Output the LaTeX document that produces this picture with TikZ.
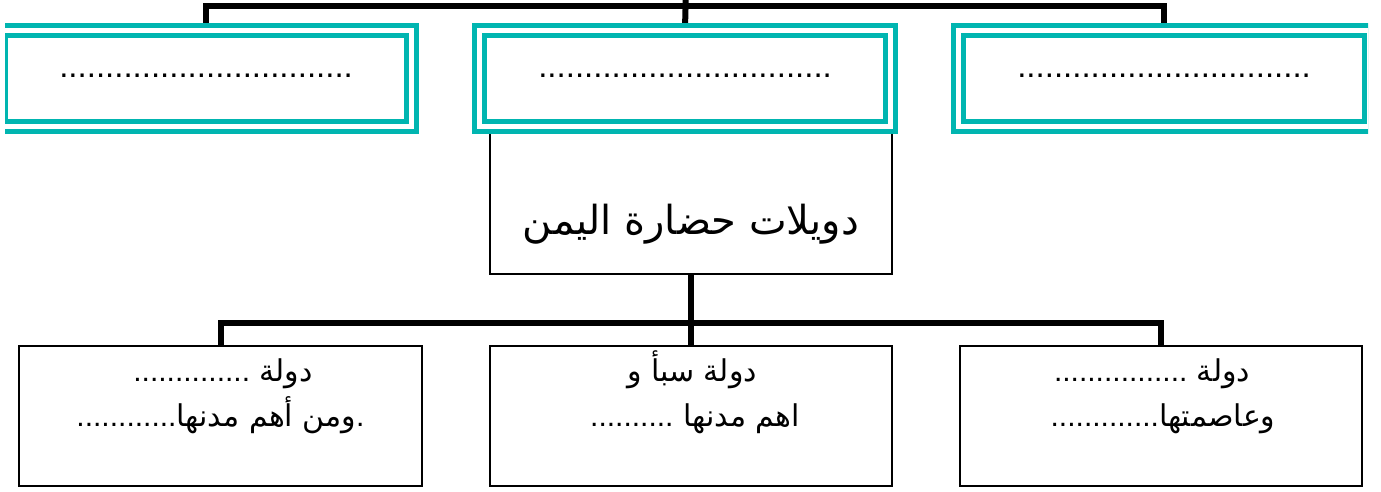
\documentclass[tikz,border=0pt]{standalone}
\usepackage{fontspec}
\setmainfont{Liberation Sans}
\newfontfamily\arabicfont[Script=Arabic]{DejaVu Sans}
\newfontfamily\latinfont{Liberation Sans}
\TeXXeTstate=1
\usetikzlibrary{backgrounds}
\definecolor{tealline}{RGB}{0,181,176}
\begin{document}
\begin{tikzpicture}[x=1pt,y=-1pt,
  tealbox/.style={draw=tealline, line width=5pt, double=white, double distance=5pt, fill=white, minimum width=411pt, minimum height=96pt, inner sep=0pt, font=\latinfont\fontsize{33}{40}\selectfont},
  plainbox/.style={draw=black, line width=2pt, fill=white, inner sep=0pt},
  botbox/.style={plainbox, minimum height=140pt},
  conn/.style={draw=black, line width=6pt, line join=miter},
  linetext/.style={anchor=base, inner sep=0pt, font=\arabicfont\fontsize{30}{36}\selectfont},
  titletext/.style={anchor=base, inner sep=0pt, font=\arabicfont\fontsize{40}{48}\selectfont}]
\useasboundingbox (0,0) rectangle (1381,491);
\clip (5,0) rectangle (1368,491);
% central box
\node[plainbox, minimum width=402pt, minimum height=164pt] (c) at (691,192) {};
\node[titletext] (ct) at (691,234) {\beginR دويلات حضارة اليمن\endR};
% teal boxes
\node[tealbox] (t1) at (206,78.5) {\raisebox{6.5pt}{................................}};
\node[tealbox] (t2) at (685,78.5) {\raisebox{6.5pt}{................................}};
\node[tealbox] (t3) at (1164,78.5) {\raisebox{6.5pt}{................................}};
% bottom boxes
\node[botbox, minimum width=403pt] (b1) at (220.5,416) {};
\node[botbox, minimum width=402pt] (b2) at (691,416) {};
\node[botbox, minimum width=402pt] (b3) at (1161,416) {};
\node[linetext] (b1a) at (223,381) {\beginR دولة {\latinfont ..............}\endR};
\node[linetext] (b1b) at (220.5,426) {\beginR{\latinfont .}ومن أهم مدنها{\latinfont ............}\endR};
\node[linetext] (b2a) at (692,381) {\beginR دولة سبأ و\endR};
\node[linetext] (b2b) at (695,426) {\beginR اهم مدنها {\latinfont ..........}\endR};
\node[linetext] (b3a) at (1152,381) {\beginR دولة {\latinfont ................}\endR};
\node[linetext] (b3b) at (1163,426) {\beginR وعاصمتها{\latinfont .............}\endR};
% connectors
\coordinate (topend) at (686,-10);
\coordinate (tj) at (686,6);
\coordinate (bj) at (691,323);
\begin{scope}[on background layer]
\draw[conn] (t2.north) -- (topend);
\draw[conn] (t1.north) |- (tj) -| (t3.north);
\draw[conn] (c.south) -- (bj);
\draw[conn] (b1.north) |- (bj) -| (b3.north);
\draw[conn] (bj) -- (b2.north);
\end{scope}
\end{tikzpicture}
\end{document}
